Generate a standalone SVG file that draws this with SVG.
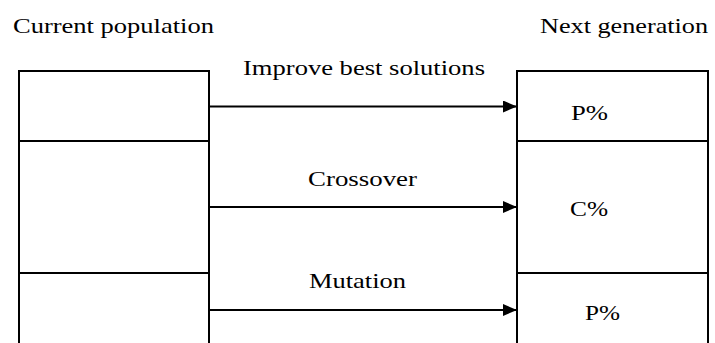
<svg xmlns="http://www.w3.org/2000/svg" width="715" height="343" viewBox="0 0 715 343">
  <defs>
    <marker id="arrow" markerWidth="14" markerHeight="12" refX="14" refY="6" orient="auto" markerUnits="userSpaceOnUse">
      <path d="M0,0 L14,6 L0,12 Z" fill="#000"/>
    </marker>
    <style>
      .box { fill: none; stroke: #000; stroke-width: 2; }
      .conn { stroke: #000; stroke-width: 2; fill: none; marker-end: url(#arrow); }
      .lbl { font-family: 'Liberation Serif', 'Times New Roman', Times, 'DejaVu Serif', serif; font-size: 22px; fill: #000; }
    </style>
  </defs>
  <rect width="715" height="343" fill="#fff"/>

  <!-- headings -->
  <text class="lbl" x="13" y="33" textLength="201" lengthAdjust="spacingAndGlyphs">Current population</text>
  <text class="lbl" x="540" y="33" textLength="168" lengthAdjust="spacingAndGlyphs">Next generation</text>

  <!-- current population column -->
  <g id="current">
    <path class="box" d="M19,343 V71 H209 V343"/>
    <line class="box" x1="19" y1="141" x2="209" y2="141"/>
    <line class="box" x1="19" y1="273" x2="209" y2="273"/>
  </g>

  <!-- next generation column -->
  <g id="next">
    <path class="box" d="M517,343 V71 H708 V343"/>
    <line class="box" x1="517" y1="141" x2="708" y2="141"/>
    <line class="box" x1="517" y1="273" x2="708" y2="273"/>
    <text class="lbl" x="571" y="120" textLength="37" lengthAdjust="spacingAndGlyphs">P%</text>
    <text class="lbl" x="570" y="216" textLength="38" lengthAdjust="spacingAndGlyphs">C%</text>
    <text class="lbl" x="585" y="320" textLength="35" lengthAdjust="spacingAndGlyphs">P%</text>
  </g>

  <!-- operators -->
  <g id="connectors">
    <line class="conn" x1="209" y1="106.5" x2="517" y2="106.5"/>
    <line class="conn" x1="209" y1="207" x2="517" y2="207"/>
    <line class="conn" x1="209" y1="310" x2="517" y2="310"/>
    <text class="lbl" x="243" y="75" textLength="242" lengthAdjust="spacingAndGlyphs">Improve best solutions</text>
    <text class="lbl" x="308" y="186" textLength="109" lengthAdjust="spacingAndGlyphs">Crossover</text>
    <text class="lbl" x="309" y="288" textLength="97" lengthAdjust="spacingAndGlyphs">Mutation</text>
  </g>
</svg>
